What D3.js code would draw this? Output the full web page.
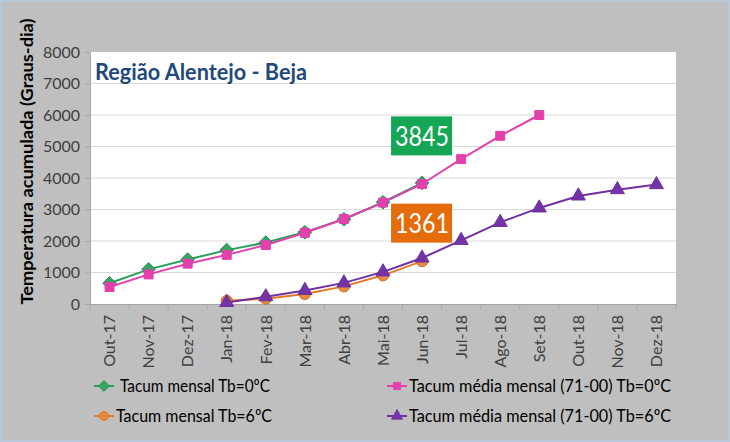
<!DOCTYPE html>
<html><head><meta charset="utf-8">
<script src="https://cdn.jsdelivr.net/npm/d3@7"></script>
<style>
html,body{margin:0;padding:0;background:#fff;}
svg{display:block;font-family:Lato,"Open Sans",sans-serif;}
</style></head>
<body>
<svg id="chart" width="730" height="442"></svg>
<script>
const months = ["Out-17","Nov-17","Dez-17","Jan-18","Fev-18","Mar-18","Abr-18","Mai-18","Jun-18","Jul-18","Ago-18","Set-18","Out-18","Nov-18","Dez-18"];
const yTicks = [0,1000,2000,3000,4000,5000,6000,7000,8000];
// Tacum mensal Tb=0ºC (Out-17 .. Jun-18)
const tb0Mensal = [660,1100,1410,1710,1950,2280,2690,3230,3845];
// Tacum média mensal (71-00) Tb=0ºC (Out-17 .. Set-18)
const tb0Media = [540,940,1280,1560,1870,2260,2700,3220,3810,4600,5340,6000];
// Tacum mensal Tb=6ºC (Jan-18 .. Jun-18)
const tb6Mensal = [100,170,320,560,910,1361];
// Tacum média mensal (71-00) Tb=6ºC (Jan-18 .. Dez-18)
const tb6Media = [50,230,430,670,1020,1460,2020,2590,3050,3430,3630,3790];
const seriesNames = ["Tacum mensal Tb=0ºC","Tacum média mensal (71-00) Tb=0ºC","Tacum mensal Tb=6ºC","Tacum média mensal (71-00) Tb=6ºC"];
const title = "Região Alentejo - Beja";
const yTitle = "Temperatura acumulada (Graus-dia)";
const callouts = [{label:"3845", value:3845, month:"Jun-18"},{label:"1361", value:1361, month:"Jun-18"}];

const svg = d3.select("#chart");
const W = 730, H = 442;
const plot = {l:90, r:676, t:52, b:304};

// background
svg.append("rect").attr("x",1).attr("y",1).attr("width",W-2).attr("height",H-2)
  .attr("fill","#bfbfbf").attr("stroke","#b7c8db").attr("stroke-width",2);
svg.append("rect").attr("x",plot.l).attr("y",plot.t).attr("width",plot.r-plot.l).attr("height",plot.b-plot.t).attr("fill","#fff");

const x = d3.scaleBand().domain(months).range([plot.l, plot.r]).padding(0);
const y = d3.scaleLinear().domain([0,8000]).range([plot.b, plot.t]);
const cx = m => x(m) + x.bandwidth()/2;

// gridlines
svg.append("g").selectAll("line").data(yTicks.filter(d=>d>0 && d<8000)).join("line")
  .attr("x1",plot.l).attr("x2",plot.r).attr("y1",d=>y(d)).attr("y2",d=>y(d))
  .attr("stroke","#d9d9d9").attr("stroke-width",1);

// y axis
const yAxis = svg.append("g").attr("transform",`translate(${plot.l},0)`)
  .call(d3.axisLeft(y).tickValues(yTicks).tickSize(5).tickPadding(5).tickFormat(d3.format("d")));
yAxis.select(".domain").attr("stroke","#a6a6a6");
yAxis.selectAll(".tick line").attr("stroke","#a6a6a6");
yAxis.selectAll("text").attr("fill","#404040").style("font-size","16px").style("font-family","Lato, sans-serif");

// x axis
const xAxis = svg.append("g").attr("transform",`translate(0,${plot.b})`)
  .call(d3.axisBottom(x).tickSize(0).tickPadding(0));
xAxis.select(".domain").attr("stroke","#a6a6a6");
xAxis.selectAll(".tick text")
  .attr("transform","rotate(-90)").attr("text-anchor","end")
  .attr("x",-11).attr("y",0).attr("dy","0.36em")
  .attr("fill","#404040").style("font-size","16px").style("font-family","Lato, sans-serif");
// x tick marks at band boundaries
svg.append("g").selectAll("line").data(months.concat(["_end"])).join("line")
  .attr("x1",(d,i)=> i<months.length ? x(d) : plot.r).attr("x2",(d,i)=> i<months.length ? x(d) : plot.r)
  .attr("y1",plot.b).attr("y2",plot.b+5).attr("stroke","#a6a6a6");

// titles
svg.append("text").attr("x",95).attr("y",80).text(title)
  .attr("fill","#1f497d").style("font-weight","bold").style("font-size","23px")
  .attr("textLength",212).attr("lengthAdjust","spacingAndGlyphs");
svg.append("text").attr("transform",`translate(33,${(18+305)/2}) rotate(-90)`)
  .attr("text-anchor","middle").text(yTitle)
  .attr("fill","#000").style("font-weight","bold").style("font-size","17.5px")
  .attr("textLength",286).attr("lengthAdjust","spacingAndGlyphs");

const strokes = ["#25a05a","#e33fad","#e87a26","#7030a0"];
const markerStroke = ["#2e8b57","#e33fad","#c8742e","#7030a0"];
const markerFill = ["#35a565","#e33fad","#ea8a3a","#7433a6"];

const line = d3.line().x(d=>cx(d.m)).y(d=>y(d.v));
function mk(values, startIdx){ return values.map((v,i)=>({m:months[startIdx+i], v})); }
const series = [
  {data:mk(tb0Mensal,0), c:0, shape:"diamond"},
  {data:mk(tb0Media,0), c:1, shape:"square"},
  {data:mk(tb6Mensal,3), c:2, shape:"circle"},
  {data:mk(tb6Media,3), c:3, shape:"triangle"}
];
function symbolPath(shape){
  if(shape==="diamond") return "M0,-6.8L6.8,0L0,6.8L-6.8,0Z";
  if(shape==="square") return d3.symbol(d3.symbolSquare, 80)();
  if(shape==="circle") return d3.symbol(d3.symbolCircle, 100)();
  return d3.symbol(d3.symbolTriangle, 85)();
}
series.forEach(s=>{
  svg.append("path").datum(s.data).attr("d",line).attr("fill","none")
    .attr("stroke",strokes[s.c]).attr("stroke-width",2);
  svg.append("g").selectAll("path").data(s.data).join("path")
    .attr("transform",d=>`translate(${cx(d.m)},${y(d.v)})`)
    .attr("d",symbolPath(s.shape)).attr("fill",markerFill[s.c]).attr("stroke",markerStroke[s.c]).attr("stroke-width",1);
});

// callouts
const boxFill = ["#14a555","#e46c0a"];
const boxOff = [-47,-38];
callouts.forEach((c,i)=>{
  const bx = cx(c.month), by = y(c.value)+boxOff[i];
  svg.append("rect").attr("x",bx-31).attr("y",by-19.5).attr("width",61).attr("height",39).attr("fill",boxFill[i]);
  svg.append("text").attr("x",bx).attr("y",by).attr("dy","0.36em").attr("text-anchor","middle")
    .text(c.label).attr("fill","#fff").style("font-size","27px")
    .attr("textLength",54).attr("lengthAdjust","spacingAndGlyphs");
});

// legend
const leg = [
  {x:94, y:386, c:0, shape:"diamond", tx:120, tl:150},
  {x:387, y:386, c:1, shape:"square", tx:409, tl:262},
  {x:94, y:416, c:2, shape:"circle", tx:116, tl:156},
  {x:387, y:416, c:3, shape:"triangle", tx:409, tl:262}
];
leg.forEach((l,i)=>{
  const g = svg.append("g");
  g.append("line").attr("x1",l.x).attr("x2",l.x+20).attr("y1",l.y).attr("y2",l.y).attr("stroke",strokes[l.c]).attr("stroke-width",2);
  g.append("path").attr("transform",`translate(${l.x+10},${l.y}) scale(0.8)`).attr("d",symbolPath(l.shape))
    .attr("fill",markerFill[l.c]).attr("stroke",markerStroke[l.c]);
  g.append("text").attr("x",l.tx).attr("y",l.y).attr("dy","0.35em").text(seriesNames[i])
    .attr("fill","#000").style("font-size","17.5px")
    .attr("textLength",l.tl).attr("lengthAdjust","spacingAndGlyphs");
});
</script>
</body></html>
